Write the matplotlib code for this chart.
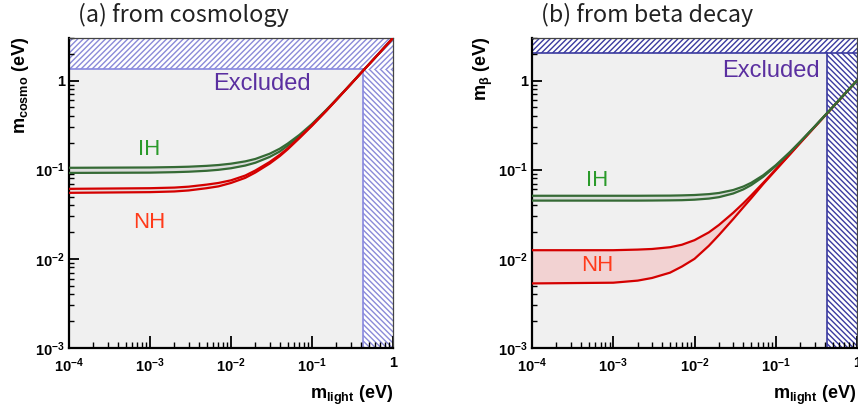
import matplotlib
matplotlib.use('Agg')
import matplotlib.pyplot as plt
from matplotlib.ticker import LogLocator, NullFormatter

plt.rcParams['font.family'] = ['Liberation Sans', 'DejaVu Sans']
plt.rcParams['mathtext.fontset'] = 'custom'
plt.rcParams['mathtext.rm'] = 'Liberation Sans'
plt.rcParams['mathtext.it'] = 'Liberation Sans:bold'
plt.rcParams['mathtext.bf'] = 'Liberation Sans:bold'
plt.rcParams['mathtext.default'] = 'bf'
plt.rcParams['hatch.linewidth'] = 1.0

# lightest neutrino mass (eV), shared by all curves
m_light = [1e-4, 1e-3, 2e-3, 3e-3, 5e-3, 7e-3, 1e-2, 1.5e-2, 2e-2, 3e-2, 4e-2,
           5e-2, 7e-2, 0.1, 0.15, 0.2, 0.3, 0.43, 0.6, 1.0]

# ---- (a) cosmology: sum of masses ----
ih_cosmo_hi = [0.105, 0.1059, 0.107, 0.108, 0.1104, 0.1128, 0.1168, 0.124, 0.132, 0.151, 0.172,
               0.196, 0.246, 0.326, 0.468, 0.614, 0.910, 1.303, 1.805, 3.003]
ih_cosmo_lo = [0.092, 0.0927, 0.0938, 0.0949, 0.0972, 0.0997, 0.1038, 0.1113, 0.1197, 0.139, 0.160,
               0.1856, 0.237, 0.320, 0.463, 0.610, 0.907, 1.300, 1.803, 3.002]
nh_cosmo_hi = [0.061, 0.062, 0.063, 0.0645, 0.068, 0.071, 0.076, 0.086, 0.098, 0.122, 0.147,
               0.173, 0.230, 0.315, 0.459, 0.608, 0.907, 1.297, 1.802, 3.0]
nh_cosmo_lo = [0.055, 0.056, 0.057, 0.0585, 0.062, 0.065, 0.071, 0.081, 0.093, 0.117, 0.142,
               0.169, 0.226, 0.311, 0.456, 0.606, 0.905, 1.295, 1.800, 3.0]
cosmo_limit = 1.33
light_limit_a = 0.43

# ---- (b) beta decay: m_beta ----
nh_beta_hi = [0.0125, 0.0125, 0.0127, 0.0129, 0.0135, 0.0144, 0.0162, 0.0198, 0.0240, 0.0329, 0.0421,
              0.0516, 0.0711, 0.1008, 0.150, 0.200, 0.300, 0.43, 0.60, 1.0]
nh_beta_lo = [0.0053, 0.0054, 0.0057, 0.0061, 0.0070, 0.0082, 0.0100, 0.0140, 0.0185, 0.0280, 0.0380,
              0.048, 0.069, 0.099, 0.149, 0.200, 0.300, 0.43, 0.60, 1.0]
ih_beta_hi = [0.051, 0.051, 0.051, 0.0511, 0.0512, 0.0515, 0.052, 0.0532, 0.0548, 0.0592, 0.0648,
              0.0714, 0.0866, 0.1123, 0.1584, 0.2064, 0.3043, 0.433, 0.602, 1.0]
ih_beta_lo = [0.045, 0.045, 0.045, 0.0451, 0.0453, 0.0455, 0.0461, 0.0474, 0.0492, 0.0541, 0.0602,
              0.0673, 0.0832, 0.1097, 0.1566, 0.205, 0.3034, 0.432, 0.602, 1.0]
beta_limit = 2.05
light_limit_b = 0.43

xticks = [1e-4, 1e-3, 1e-2, 1e-1, 1]
xticklabels = ['$10^{-4}$', '$10^{-3}$', '$10^{-2}$', '$10^{-1}$', '1']
yticks = [1e-3, 1e-2, 1e-1, 1]
yticklabels = ['$10^{-3}$', '$10^{-2}$', '$10^{-1}$', '1']

xmin, xmax = 1e-4, 1.0
ymin, ymax = 1e-3, 3.0

red = '#d40000'
green = '#356a35'
purple = '#5a2fa0'

fig = plt.figure(figsize=(8.58, 4.09), dpi=100)
ax1 = fig.add_axes([69/858, 61/409, 324/858, 310/409])
ax2 = fig.add_axes([532/858, 61/409, 325/858, 310/409])


def setup(ax):
    ax.set_xscale('log')
    ax.set_yscale('log')
    ax.set_xlim(xmin, xmax)
    ax.set_ylim(ymin, ymax)
    ax.set_facecolor('#f0f0f0')
    ax.set_xticks(xticks)
    ax.set_xticklabels(xticklabels, fontsize=10.5, fontweight='bold')
    ax.set_yticks(yticks)
    ax.set_yticklabels(yticklabels, fontsize=10.5, fontweight='bold')
    ax.xaxis.set_minor_locator(LogLocator(base=10, subs=range(2, 10)))
    ax.yaxis.set_minor_locator(LogLocator(base=10, subs=range(2, 10)))
    ax.xaxis.set_minor_formatter(NullFormatter())
    ax.yaxis.set_minor_formatter(NullFormatter())
    ax.tick_params(axis='x', which='major', direction='in', length=9, width=1.3, pad=6)
    ax.tick_params(axis='x', which='minor', direction='in', length=4.5, width=1.0)
    ax.tick_params(axis='y', which='major', direction='in', length=7, width=1.3, pad=3)
    ax.tick_params(axis='y', which='minor', direction='in', length=3.5, width=1.0)
    for s in ['left', 'bottom']:
        ax.spines[s].set_linewidth(1.6)
    for s in ['top', 'right']:
        ax.spines[s].set_linewidth(0.9)
        ax.spines[s].set_color('#444444')


def band(ax, x, lo, hi, col, fill):
    ax.fill_between(x, lo, hi, color=fill, lw=0, zorder=2)
    ax.plot(x, lo, color=col, lw=1.6, zorder=3)
    ax.plot(x, hi, color=col, lw=1.6, zorder=3)


setup(ax1)
setup(ax2)

# excluded regions (a)
hc_a = '#8a8ad8'
ax1.fill_between([xmin, xmax], cosmo_limit, ymax, facecolor='white', edgecolor=hc_a,
                 hatch='//////', lw=0, zorder=1)
ax1.fill_between([light_limit_a, xmax], ymin, cosmo_limit, facecolor='white', edgecolor=hc_a,
                 hatch='\\\\\\\\\\\\', lw=0, zorder=1)
ax1.plot([xmin, light_limit_a], [cosmo_limit, cosmo_limit], color='#8888e0', lw=1.2, zorder=1.5)
ax1.plot([light_limit_a, light_limit_a], [ymin, cosmo_limit], color='#8888e0', lw=1.2, zorder=1.5)

band(ax1, m_light, ih_cosmo_lo, ih_cosmo_hi, green, '#dcdcdc')
band(ax1, m_light, nh_cosmo_lo, nh_cosmo_hi, red, '#e6dcdc')

ax1.text(0.594, 0.852, 'Excluded', transform=ax1.transAxes, color=purple, fontsize=17,
         ha='center', va='center')
ax1.text(0.247, 0.639, 'IH', transform=ax1.transAxes, color='#2a9a2a', fontsize=16,
         ha='center', va='center')
ax1.text(0.247, 0.406, 'NH', transform=ax1.transAxes, color='#ff3a1a', fontsize=16,
         ha='center', va='center')

# excluded regions (b)
hc_b = '#3a3aa0'
ax2.fill_between([xmin, xmax], beta_limit, ymax, facecolor='white', edgecolor=hc_b,
                 hatch='//////', lw=0, zorder=1)
ax2.fill_between([light_limit_b, xmax], ymin, beta_limit, facecolor='white', edgecolor=hc_b,
                 hatch='\\\\\\\\\\\\', lw=0, zorder=1)
ax2.plot([xmin, xmax], [beta_limit, beta_limit], color=hc_b, lw=1.2, zorder=1.5)
ax2.plot([light_limit_b, light_limit_b], [ymin, beta_limit], color=hc_b, lw=1.2, zorder=1.5)

band(ax2, m_light, nh_beta_lo, nh_beta_hi, red, '#f2d2d2')
band(ax2, m_light, ih_beta_lo, ih_beta_hi, green, '#d8dcd8')

ax2.text(0.735, 0.894, 'Excluded', transform=ax2.transAxes, color=purple, fontsize=17,
         ha='center', va='center')
ax2.text(0.20, 0.539, 'IH', transform=ax2.transAxes, color='#2a9a2a', fontsize=16,
         ha='center', va='center')
ax2.text(0.20, 0.265, 'NH', transform=ax2.transAxes, color='#ff3a1a', fontsize=16,
         ha='center', va='center')

# titles and axis labels
title_font = ['Noto Sans CJK JP', 'DejaVu Sans']
fig.text(78/858, 1 - 15/409, '(a) from cosmology', fontsize=16.8, family=title_font,
         ha='left', va='center', color='#222222')
fig.text(541/858, 1 - 15/409, '(b) from beta decay', fontsize=16.8, family=title_font,
         ha='left', va='center', color='#222222')

fig.text(21/858, 1 - 37/409, r'$m_{cosmo}$ (eV)', rotation=90, fontsize=13,
         fontweight='bold', ha='center', va='top')
fig.text(483/858, 1 - 37/409, r'$m_{β}$ (eV)', rotation=90, fontsize=13,
         fontweight='bold', ha='center', va='top')
fig.text(393/858, 1 - 395/409, r'$m_{light}$ (eV)', fontsize=13,
         fontweight='bold', ha='right', va='center')
fig.text(856/858, 1 - 395/409, r'$m_{light}$ (eV)', fontsize=13,
         fontweight='bold', ha='right', va='center')

fig.savefig('out.png', dpi=100)
